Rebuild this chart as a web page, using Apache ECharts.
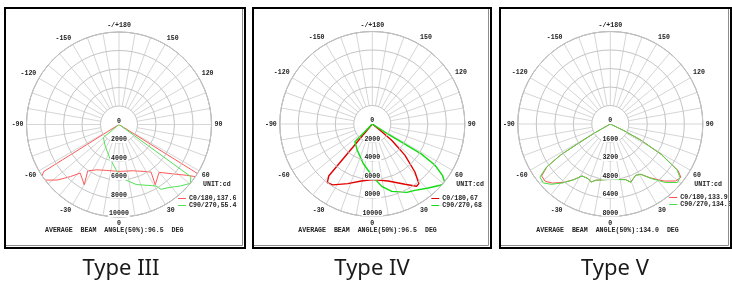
<!DOCTYPE html>
<html>
<head>
<meta charset="utf-8">
<script src="https://cdn.jsdelivr.net/npm/echarts@6/dist/echarts.min.js"></script>
<style>
html, body { margin: 0; padding: 0; background: #fff; }
#chart { width: 732px; height: 284px; }
</style>
</head>
<body>
<div id="chart"></div>
<script>
// angles in degrees, 0 = straight down, positive to the right (like the photometric sheets)
// Type III
var t3RedAngle = [-180, -90, -58, -56, -53, -48, -43, -38.6, -30, -34, -26, -15, 0, 17, 30, 34, 31, 40, 47.5, 53, 56.5, 58, 90, 180];
var t3RedCd    = [0, 0, 9590, 10100, 9990, 8970, 7700, 6720, 7520, 6030, 5450, 5140, 5070, 5230, 5880, 6200, 7600, 6750, 7900, 9120, 10300, 10050, 0, 0];
var t3GreenAngle = [-180, -90, -50, -33, -15, -3, 4.5, 16, 31, 33, 38.5, 45, 50.5, 54, 90, 180];
var t3GreenCd    = [0, 0, 2200, 2750, 3800, 5000, 5900, 6750, 7750, 8350, 8700, 9400, 10000, 9600, 0, 0];

// Type IV
var t4RedAngle = [-180, -90, -40, -37.5, -33, -22.3, -11, 0.7, 15.5, 28.4, 35.4, 38, 41.6, 46.3, 49.9, 51, 90, 180];
var t4RedCd    = [0, 0, 7300, 8000, 7850, 6970, 6280, 6010, 6390, 7410, 8260, 8180, 6940, 4870, 2700, 1035, 0, 0];
var t4GreenAngle = [-180, -90, -44.3, -30, -12.9, -0.7, 8.6, 16.1, 26.8, 32.7, 41.2, 47.9, 50.7, 53.8, 56.7, 58.5, 58.3, 57.5, 90, 180];
var t4GreenCd    = [0, 0, 2690, 3260, 4380, 5540, 6820, 7580, 8280, 8530, 9200, 9880, 10170, 9390, 8120, 6240, 4140, 2020, 0, 0];

// Type V
var t5RedAngle = [-180, -90, -60.3, -58.8, -58, -55.9, -52.9, -48.7, -44.4, -38.5, -33.3, -28.5, -22, -18.2, -14.7, 0, 15.5, 19.4, 26.4, 31.2, 36.9, 43.3, 48.9, 52.9, 55.5, 59.2, 62.2, 64, 90, 180];
var t5RedCd    = [0, 0, 1640, 3360, 5090, 6620, 7450, 7500, 7150, 6450, 5760, 5110, 5100, 5280, 5030, 4780, 4990, 5320, 4950, 5090, 5840, 6780, 7500, 7650, 7120, 5150, 3000, 1320, 0, 0];
var t5GreenAngle = [-180, -90, -60.3, -58.8, -58, -55.9, -53, -48.7, -44.4, -38.5, -33.3, -28.5, -22, -18.2, -14.7, 0, 15.5, 19.4, 26.4, 31.2, 36.9, 43.3, 48.9, 52.5, 55.5, 59.2, 62.2, 64, 90, 180];
var t5GreenCd    = [0, 0, 1640, 3360, 5090, 6700, 7620, 7720, 7300, 6500, 5760, 5110, 5100, 5300, 5030, 4800, 5000, 5350, 4950, 5090, 5900, 6950, 7700, 7600, 7000, 5100, 2980, 1320, 0, 0];

var captions = ['Type III', 'Type IV', 'Type V'];
var beamAngles = ['96.5', '96.5', '134.0'];
var c0Names = ['C0/180,137.6', 'C0/180,67', 'C0/180,133.9'];
var c90Names = ['C90/270,55.4', 'C90/270,68', 'C90/270,134.0'];
var radiusMax = [10000, 10000, 8000];
var radiusStep = [2000, 2000, 1600];

var redData = [[t3RedAngle, t3RedCd], [t4RedAngle, t4RedCd], [t5RedAngle, t5RedCd]];
var greenData = [[t3GreenAngle, t3GreenCd], [t4GreenAngle, t4GreenCd], [t5GreenAngle, t5GreenCd]];

// layout of the three sheets
var centers = [[119, 124.5], [372.3, 124], [610.3, 124]];
var R = 92.5;
var frames = [[5, 8, 240, 240], [253, 8, 238, 240], [500, 8, 231, 240]];
var redColors = ['#ff5a5a', '#e30000', '#ff5050'];
var greenColors = ['#55e055', '#11dd11', '#44dd44'];
var lineWidths = [1, 1.4, 1];

var monoFont = 'bold 6.6px "Liberation Mono", monospace';

function toPolar(angles, cd) {
    var out = [];
    for (var i = 0; i < angles.length; i++) {
        var a = angles[i] < 0 ? angles[i] + 360 : angles[i];
        out.push([cd[i], a]);
    }
    return out;
}

function angleLabel(v) {
    if (v === 360) return '';
    if (v === 180) return '-/+180';
    if (v > 180) return '-' + (360 - v);
    return String(v);
}

var polar = [], angleAxis = [], radiusAxis = [], series = [], legend = [], graphic = [];

for (var p = 0; p < 3; p++) {
    // polar for data, rings and labels
    polar.push({ center: centers[p], radius: R });
    angleAxis.push({
        polarIndex: 2 * p,
        type: 'value', min: 0, max: 360, interval: 30,
        startAngle: 270, clockwise: false,
        axisLine: { show: true, lineStyle: { color: '#9a9a9a', width: 1 } },
        axisTick: { show: false },
        splitLine: { show: false },
        axisLabel: { show: true, margin: 3, formatter: angleLabel, color: '#222',
            fontFamily: 'Liberation Mono', fontWeight: 'bold', fontSize: 6.6 }
    });
    radiusAxis.push({
        polarIndex: 2 * p,
        type: 'value', min: 0, max: radiusMax[p], interval: radiusStep[p],
        axisLine: { show: false },
        axisTick: { show: false },
        splitLine: { show: true, lineStyle: { color: '#c4c4c4', width: 1 } },
        axisLabel: { show: true, margin: 0, align: 'center', verticalAlign: 'bottom',
            formatter: function (v) { return String(v); },
            color: '#222', fontFamily: 'Liberation Mono', fontWeight: 'bold', fontSize: 6.6,
            backgroundColor: '#fff', padding: [0, 1, 0, 1] },
        z: 5
    });
    // polar for the spokes, which start at the first ring
    polar.push({ center: centers[p], radius: [R * radiusStep[p] / radiusMax[p], R] });
    angleAxis.push({
        polarIndex: 2 * p + 1,
        type: 'value', min: 0, max: 360, interval: 10,
        startAngle: 270, clockwise: false,
        axisLine: { show: false }, axisTick: { show: false }, axisLabel: { show: false },
        splitLine: { show: true, lineStyle: { color: '#d6d6d6', width: 1 } }
    });
    radiusAxis.push({ polarIndex: 2 * p + 1, type: 'value', min: 0, max: 1, show: false });

    series.push({
        name: c0Names[p], type: 'line', coordinateSystem: 'polar', polarIndex: 2 * p,
        data: toPolar(redData[p][0], redData[p][1]),
        showSymbol: false, clip: false, z: 3,
        itemStyle: { color: redColors[p] },
        lineStyle: { color: redColors[p], width: lineWidths[p] }
    });
    series.push({
        name: c90Names[p], type: 'line', coordinateSystem: 'polar', polarIndex: 2 * p,
        data: toPolar(greenData[p][0], greenData[p][1]),
        showSymbol: false, clip: false, z: 3,
        itemStyle: { color: greenColors[p] },
        lineStyle: { color: greenColors[p], width: lineWidths[p] }
    });

    var cx = centers[p][0];
    legend.push({
        data: [c0Names[p], c90Names[p]],
        orient: 'vertical', left: cx + 59, top: cx > 600 ? 194 : 195,
        padding: 0, itemGap: 0, itemWidth: 8, itemHeight: 1, icon: 'rect',
        selectedMode: false,
        textStyle: { fontFamily: 'Liberation Mono', fontWeight: 'bold', fontSize: 6.6,
            lineHeight: 7, color: '#222', padding: [0, 0, 0, -2] }
    });

    var f = frames[p];
    graphic.push({ type: 'rect', shape: { x: f[0], y: f[1], width: f[2], height: f[3] },
        style: { fill: null, stroke: '#000', lineWidth: 2 }, z: 10 });
    graphic.push({ type: 'polyline', shape: { points: [[f[0] + f[2] - 2.5, f[1] + 1], [f[0] + f[2] - 2.5, f[1] + f[3] - 2.5], [f[0] + 1, f[1] + f[3] - 2.5]] },
        style: { fill: null, stroke: '#8c8c8c', lineWidth: 1 }, z: 10 });
    graphic.push({ type: 'text', x: cx + 84, y: 184, z: 10,
        style: { text: 'UNIT:cd', font: monoFont, fill: '#222', textVerticalAlign: 'middle' } });
    graphic.push({ type: 'text', x: cx - 74, y: 230, z: 10,
        style: { text: 'AVERAGE  BEAM  ANGLE(50%):' + beamAngles[p] + '  DEG', font: monoFont,
            fill: '#222', textVerticalAlign: 'middle' } });
    graphic.push({ type: 'text', x: [121, 372, 615][p], y: 269, z: 10,
        style: { text: captions[p], font: '22px "Noto Sans", "Open Sans", sans-serif', fill: '#1a1a1a',
            textAlign: 'center', textVerticalAlign: 'middle' } });
}

var chart = echarts.init(document.getElementById('chart'), null, { renderer: 'canvas' });
chart.setOption({
    backgroundColor: '#fff',
    animation: false,
    polar: polar,
    angleAxis: angleAxis,
    radiusAxis: radiusAxis,
    legend: legend,
    series: series,
    graphic: graphic
});
</script>
</body>
</html>
